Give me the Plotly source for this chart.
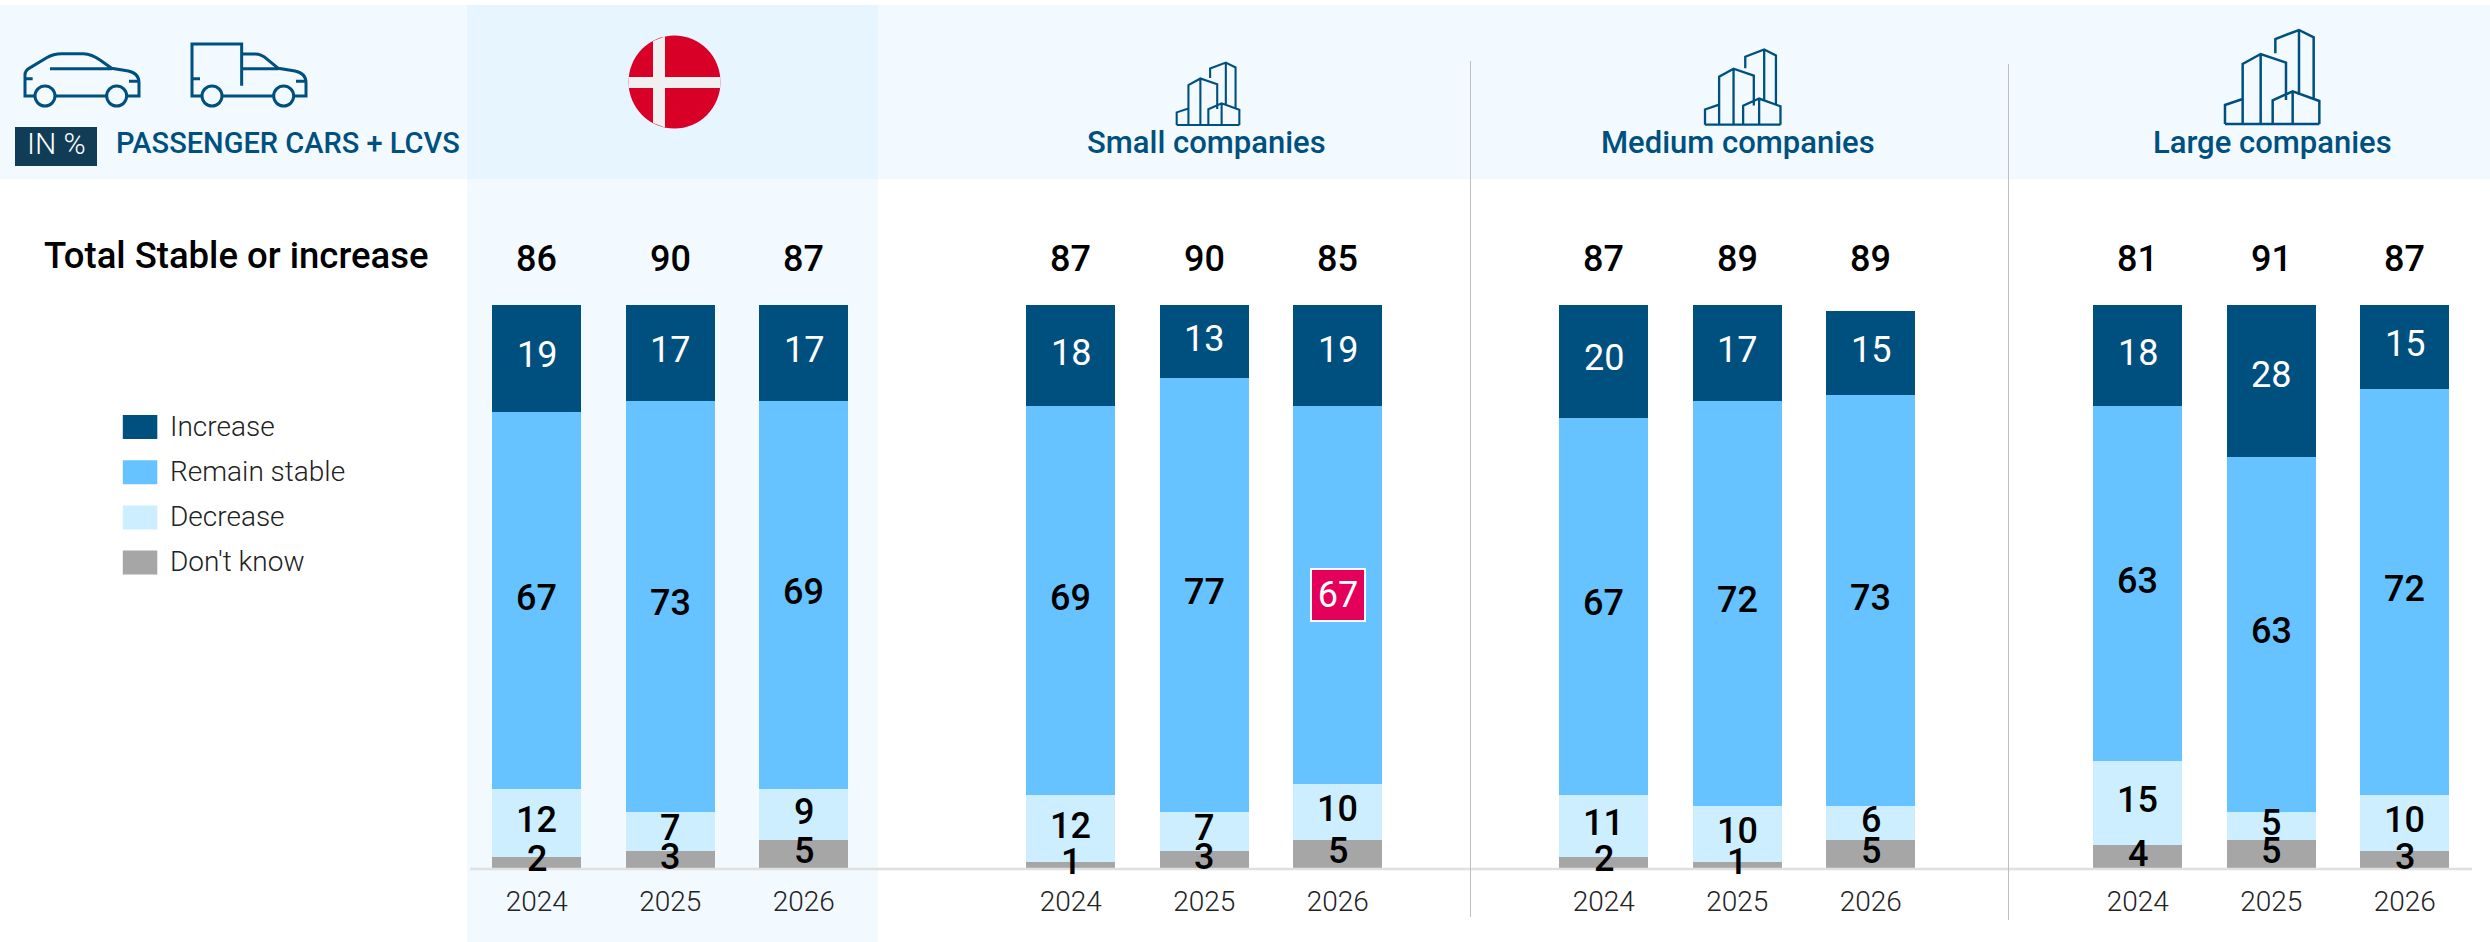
import plotly.graph_objects as go

W, H = 2490, 942
YEARS = ["2024", "2025", "2026"]
GROUPS = ["Denmark", "Small companies", "Medium companies", "Large companies"]
DONT_KNOW = [2, 3, 5, 1, 3, 5, 2, 1, 5, 4, 5, 3]
DECREASE = [12, 7, 9, 12, 7, 10, 11, 10, 6, 15, 5, 10]
REMAIN = [67, 73, 69, 69, 77, 67, 67, 72, 73, 63, 63, 72]
INCREASE = [19, 17, 17, 18, 13, 19, 20, 17, 15, 18, 28, 15]
TOTALS = [86, 90, 87, 87, 90, 85, 87, 89, 89, 81, 91, 87]
SERIES = [("Don't know", DONT_KNOW, "#a6a6a6", "#000000"),
          ("Decrease", DECREASE, "#cceeff", "#000000"),
          ("Remain stable", REMAIN, "#66c3ff", "#000000"),
          ("Increase", INCREASE, "#00507f", "#ffffff")]
LEGEND_ORDER = ["Increase", "Remain stable", "Decrease", "Don't know"]
DARK = "#00507f"
FONT = "Roboto"

PANEL_LEFT = [470, 1004, 1537, 2071]
PANEL_W = 400.5
BASE_Y, TOP_Y = 868, 305


def px(x): return x / W
def py(y): return 1 - y / H


fig = go.Figure()
layout = {}
shapes, ann = [], []
for g, name in enumerate(GROUPS):
    suffix = "" if g == 0 else str(g + 1)
    cum = [0, 0, 0]
    for sname, vals, color, tcolor in SERIES:
        v = vals[g * 3:g * 3 + 3]
        fig.add_trace(go.Bar(
            x=YEARS, y=v, name=sname, marker=dict(color=color, line=dict(width=0)),
            showlegend=False, xaxis="x" + suffix, yaxis="y" + suffix, hoverinfo="name+y"))
        for j in range(3):
            hl = g == 1 and j == 2 and sname == "Remain stable"
            extra = dict(width=52, height=50, bgcolor="#e4005a", bordercolor="#ffffff", borderwidth=2,
                         borderpad=0) if hl else dict(yshift=3)
            white = hl or tcolor == "#ffffff"
            ann.append(dict(xref="x" + suffix, yref="y" + suffix, x=j, y=cum[j] + v[j] / 2, text=str(v[j]),
                            showarrow=False, xanchor="center", yanchor="middle",
                            font=dict(family=FONT, size=36, weight=400 if white else 500,
                                      color="#ffffff" if white else tcolor), **extra))
            cum[j] += v[j]
    layout["xaxis" + suffix] = dict(
        domain=[px(PANEL_LEFT[g]), px(PANEL_LEFT[g] + PANEL_W)], type="category",
        categoryorder="array", categoryarray=YEARS, range=[-0.5, 2.5], anchor="y" + suffix,
        showgrid=False, showline=False, zeroline=False, ticks="", ticklabelstandoff=14,
        tickfont=dict(family=FONT, size=28, color="#222222", weight=300))
    layout["yaxis" + suffix] = dict(
        domain=[py(BASE_Y), py(TOP_Y)], range=[0, 100], anchor="x" + suffix, visible=False)
    for j in range(3):
        ann.append(dict(xref="x" + suffix, yref="paper", x=j, y=py(259), text=str(TOTALS[g * 3 + j]),
                        showarrow=False, xanchor="center", yanchor="middle",
                        font=dict(family=FONT, size=36, color="#000000", weight=500)))


def rect(x0, y0, x1, y1, color, layer="below", line=None):
    shapes.append(dict(type="rect", xref="paper", yref="paper", x0=px(x0), x1=px(x1), y0=py(y0), y1=py(y1),
                       fillcolor=color, line=dict(width=0) if line is None else line, layer=layer))


def hline(x0, y0, x1, y1, color, width, layer="above"):
    shapes.append(dict(type="line", xref="paper", yref="paper", x0=px(x0), x1=px(x1), y0=py(y0), y1=py(y1),
                       line=dict(color=color, width=width), layer=layer))


def label(x, y, text, size, color="#000000", anchor="center", weight=400):
    ann.append(dict(xref="paper", yref="paper", x=px(x), y=py(y), text=text, showarrow=False,
                    xanchor=anchor, yanchor="middle",
                    font=dict(family=FONT, size=size, color=color, weight=weight)))


def icon(tokens, ox, oy, scale, width):
    out = []
    is_x = True
    for t in tokens.split():
        if t.isalpha():
            out.append(t)
            is_x = True
        else:
            v = float(t) * scale
            out.append(f"{px(ox + v):.5f}" if is_x else f"{py(oy + v):.5f}")
            is_x = not is_x
    shapes.append(dict(type="path", xref="paper", yref="paper", path=" ".join(out),
                       line=dict(color=DARK, width=width), layer="above"))


def wheel(cx, cy, r, width):
    shapes.append(dict(type="circle", xref="paper", yref="paper", x0=px(cx - r), x1=px(cx + r),
                       y0=py(cy + r), y1=py(cy - r), line=dict(color=DARK, width=width), layer="above"))


# backgrounds
rect(0, 5, W, 179, "#f2f9ff")
rect(467, 179, 878, H, "#f2f9ff")
rect(467, 5, 878, 179, "#e6f5ff")
# baseline and dividers
hline(470, 869, 2472, 869, "#e0e0e0", 2.5)
hline(1470.5, 61, 1470.5, 917, "#bfbfbf", 1)
hline(2008.5, 64, 2008.5, 920, "#bfbfbf", 1)

# car and van icons (traced at 3x)
CAR = ("M 60 198 L 30 198 L 30 135 Q 30 122 42 115 L 95 83 Q 115 71 140 71 L 205 71 Q 230 72 255 90 "
       "L 290 115 L 340 123 Q 372 130 372 158 L 372 198 L 338 198 M 120 198 L 275 198 "
       "M 105 116 L 290 116 M 30 146 L 53 146 M 342 154 L 372 154")
VAN = ("M 65 198 L 36 198 L 36 42 L 185 42 L 185 167 M 36 146 L 60 146 "
       "M 185 72 L 225 72 Q 245 72 262 88 L 295 115 L 345 123 Q 378 130 378 158 L 378 198 L 343 198 "
       "M 185 116 L 295 116 M 348 154 L 378 154 M 127 198 L 280 198")
icon(CAR, 15, 30, 1 / 3, 3)
wheel(15 + 90 / 3, 30 + 198 / 3, 10, 3)
wheel(15 + 305 / 3, 30 + 198 / 3, 10, 3)
icon(VAN, 180, 30, 1 / 3, 3)
wheel(180 + 96 / 3, 30 + 198 / 3, 10, 3)
wheel(180 + 311 / 3, 30 + 198 / 3, 10, 3)

# building icons
BUILD = ("M 0 0 L 283 0 M 0 0 L 0 -57 L 53 -75 M 53 0 L 53 -180 L 107 -210 L 183 -184 L 183 -72 "
         "M 107 -210 L 107 0 M 151 -212 L 151 -255 L 222 -282 L 266 -260 L 266 -77 M 222 -282 L 222 -87 "
         "M 143 0 L 143 -71 L 203 -98 L 283 -69 L 283 0 M 203 -98 L 203 0")
icon(BUILD, 1176.7, 125, 0.664 / 3, 2.1)
icon(BUILD, 1705, 124.7, 0.80 / 3, 2.3)
icon(BUILD, 2225, 124, 1 / 3, 2.5)

# flag
shapes.append(dict(type="circle", xref="paper", yref="paper", x0=px(628.5), x1=px(720.5), y0=py(128.5), y1=py(35.5),
                   fillcolor="#d80027", line=dict(width=0), layer="above"))
shapes.append(dict(type="path", xref="paper", yref="paper", fillcolor="#f0f0f0", line=dict(width=0), layer="above",
                   path=f"M {px(653)} {py(41)} L {px(665)} {py(36.5)} L {px(665)} {py(77)} L {px(720.5)} {py(77)} "
                        f"L {px(720.5)} {py(88)} L {px(665)} {py(88)} L {px(665)} {py(127.5)} L {px(653)} {py(123)} "
                        f"L {px(653)} {py(88)} L {px(628.5)} {py(88)} L {px(628.5)} {py(77)} L {px(653)} {py(77)} Z"))

# header texts
rect(15, 127, 97, 166, "#103c55", layer="above")
label(56, 144, "IN %", 30, "#ffffff", weight=300)
label(114, 143, "PASSENGER CARS + LCVS", 29, DARK, "left", 500)
label(1206.5, 143, GROUPS[1], 31, DARK, weight=500)
label(1738, 143, GROUPS[2], 31, DARK, weight=500)
label(2272, 143, GROUPS[3], 31, DARK, weight=500)
label(42, 255, "Total Stable or increase", 36.5, "#000000", "left", 500)

# legend
colors = {s[0]: s[2] for s in SERIES}
for i, nm in enumerate(LEGEND_ORDER):
    yc = 427 + i * 45.2
    rect(122.8, yc - 12, 157.3, yc + 12, colors[nm], layer="above")
    label(168, yc - 1, nm, 28, "#222222", "left", 300)

fig.update_layout(width=W, height=H, margin=dict(l=0, r=0, t=0, b=0), barmode="stack", bargap=1 / 3,
                  paper_bgcolor="#ffffff", plot_bgcolor="rgba(0,0,0,0)", showlegend=False,
                  shapes=shapes, annotations=ann, **layout)
fig.write_html("out.html", config=dict(displayModeBar=False),
               post_script="document.body.style.margin='0';document.documentElement.style.overflow='hidden';")
